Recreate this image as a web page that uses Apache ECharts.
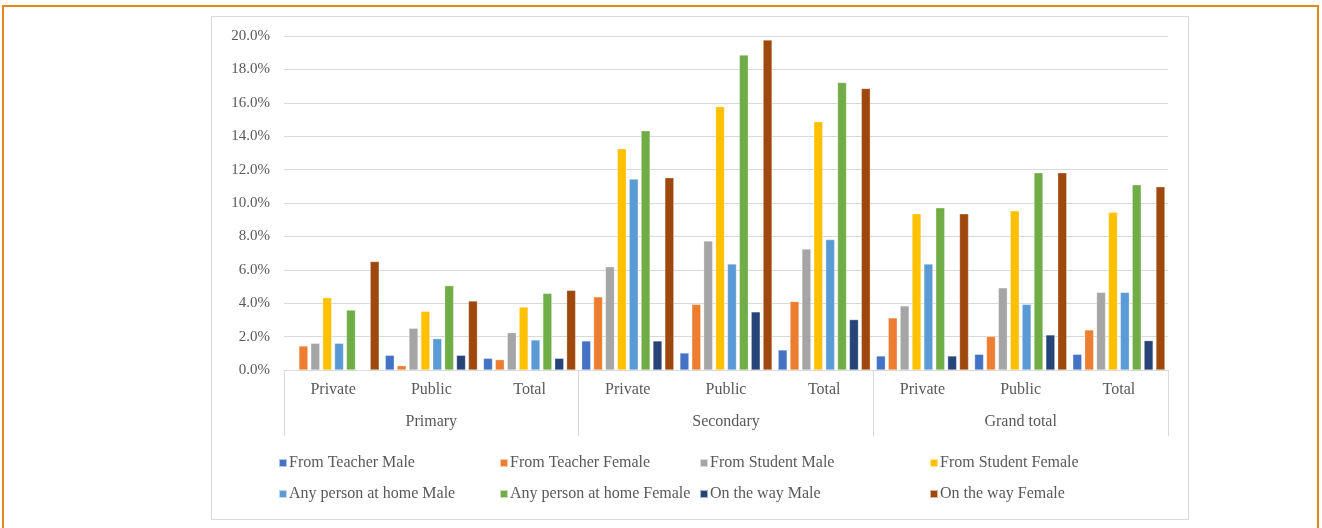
<!DOCTYPE html>
<html>
<head>
<meta charset="utf-8">
<script src="https://cdn.jsdelivr.net/npm/echarts@6/dist/echarts.min.js"></script>
<style>
  html, body { margin: 0; padding: 0; background: #fff; }
  .frame { position: absolute; left: 2px; top: 5px; width: 1317px; height: 530px; border: 2px solid #E0891C; border-bottom: none; box-sizing: border-box; }
  .box { position: absolute; left: 211px; top: 16px; width: 978px; height: 504px; border: 1px solid #d9d9d9; box-sizing: border-box; }
  #chart { position: absolute; left: 0; top: 0; width: 1322px; height: 528px; }
</style>
</head>
<body>
<div class="frame"></div>
<div class="box"></div>
<div id="chart"></div>
<script>
// categories
var subCats = ['Private', 'Public', 'Total', 'Private', 'Public', 'Total', 'Private', 'Public', 'Total'];
var groups = ['Primary', 'Secondary', 'Grand total'];

// values in percent, order: Primary P/Pu/T, Secondary P/Pu/T, Grand total P/Pu/T
var teacherMale     = [0,    0.88, 0.70, 1.74, 1.02, 1.20, 0.84, 0.94, 0.94];
var teacherFemale   = [1.44, 0.26, 0.62, 4.38, 3.93, 4.10, 3.12, 2.01, 2.40];
var studentMale     = [1.60, 2.50, 2.23, 6.18, 7.73, 7.25, 3.84, 4.92, 4.65];
var studentFemale   = [4.33, 3.51, 3.77, 13.25, 15.77, 14.87, 9.35, 9.53, 9.45];
var homeMale        = [1.60, 1.88, 1.80, 11.43, 6.35, 7.81, 6.35, 3.93, 4.65];
var homeFemale      = [3.59, 5.05, 4.59, 14.33, 18.86, 17.22, 9.71, 11.81, 11.09];
var wayMale         = [0,    0.88, 0.70, 1.74, 3.48, 3.02, 0.84, 2.10, 1.76];
var wayFemale       = [6.49, 4.13, 4.77, 11.51, 19.76, 16.86, 9.35, 11.81, 10.97];

var seriesNames = ['From Teacher Male', 'From Teacher Female', 'From Student Male', 'From Student Female',
                   'Any person at home Male', 'Any person at home Female', 'On the way Male', 'On the way Female'];
var seriesData = [teacherMale, teacherFemale, studentMale, studentFemale, homeMale, homeFemale, wayMale, wayFemale];
var colors = ['#4472C4', '#ED7D31', '#A5A5A5', '#FFC000', '#5B9BD5', '#70AD47', '#264478', '#9E480E'];

var font = 'Liberation Serif';
var textColor = '#595959';

var chart = echarts.init(document.getElementById('chart'));

// legend positions (two rows of four)
var legendX = [273, 494, 694, 924];
var legendY = [450, 481];
var legends = seriesNames.map(function (n, i) {
  return {
    data: [n],
    left: legendX[i % 4],
    top: legendY[Math.floor(i / 4)],
    icon: 'rect',
    itemWidth: 8,
    itemHeight: 8,
    itemGap: 4,
    selectedMode: false,
    textStyle: { fontFamily: font, fontSize: 16, color: textColor, padding: [0, 0, 0, -3] }
  };
});

var option = {
  animation: false,
  color: colors,
  legend: legends,
  grid: { left: 284, right: 154, top: 36, bottom: 158 },
  xAxis: [
    {
      type: 'category',
      data: subCats,
      position: 'bottom',
      axisLine: { show: true, lineStyle: { color: '#d9d9d9', width: 1 } },
      axisTick: { show: false },
      axisLabel: { fontFamily: font, fontSize: 16, color: textColor, margin: 12 }
    },
    {
      type: 'category',
      data: groups,
      position: 'bottom',
      axisLine: { show: false },
      axisTick: { show: true, length: 66, lineStyle: { color: '#d9d9d9' } },
      axisLabel: { fontFamily: font, fontSize: 16, color: textColor, margin: 44 }
    }
  ],
  yAxis: {
    type: 'value',
    min: 0,
    max: 20,
    interval: 2,
    axisLine: { show: false },
    axisTick: { show: false },
    splitLine: { lineStyle: { color: '#d9d9d9', width: 1 } },
    axisLabel: {
      fontFamily: font, fontSize: 15, color: textColor, margin: 14,
      formatter: function (v) { return v.toFixed(1) + '%'; }
    }
  },
  series: seriesNames.map(function (n, i) {
    return {
      name: n,
      type: 'bar',
      data: seriesData[i],
      barWidth: 9,
      barGap: '32%',
      itemStyle: { borderColor: 'rgba(255,255,255,0.6)', borderWidth: 0.5 }
    };
  })
};

chart.setOption(option);
</script>
</body>
</html>
